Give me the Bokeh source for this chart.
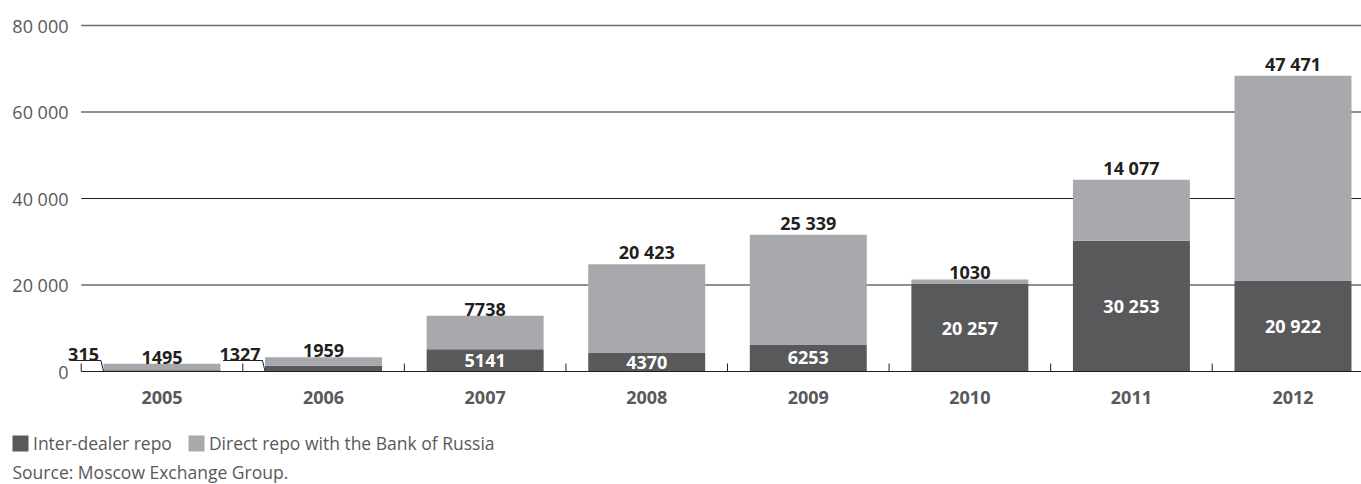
from bokeh.plotting import figure
from bokeh.models import (Range1d, FixedTicker, LinearAxis, Legend, LegendItem,
                          Label, ColumnDataSource)
from bokeh.embed import file_html
from bokeh.resources import INLINE

# ---------------- data ----------------
years = ["2005", "2006", "2007", "2008", "2009", "2010", "2011", "2012"]
inter_dealer = [315, 1327, 5141, 4370, 6253, 20257, 30253, 20922]
direct_cbr = [1495, 1959, 7738, 20423, 25339, 1030, 14077, 47471]
y_ticks = [0, 20000, 40000, 60000, 80000]
series_names = ["Inter-dealer repo", "Direct repo with the Bank of Russia"]
source_text = "Source: Moscow Exchange Group."

# ---------------- style ----------------
DARK = "#58595b"
LIGHT = "#a7a9ac"
INK = "#231f20"
GREY_TEXT = "#58595b"
FONT = "Open Sans"
FS = "18px"
FS_SMALL = "17.5px"

W, H = 1361, 484
PX = 80000 / 346.0            # data units per pixel (vertical)
ZERO_PX = 371                 # canvas y of the zero line
CAT_PX = 161.57               # pixels per category
FIRST_CENTER_PX = 161.5       # pixel x of first category centre
YLABEL_RIGHT_PX = 70
BAR_W = 0.724


def px_to_x(px):
    return (px - FIRST_CENTER_PX) / CAT_PX


def fmt(v):
    return f"{v:,}".replace(",", " ") if v >= 10000 else str(v)


x = list(range(len(years)))
totals = [a + b for a, b in zip(inter_dealer, direct_cbr)]

x_start = px_to_x(0)
x_end = px_to_x(W)

p = figure(width=W, height=H,
           x_range=Range1d(x_start, x_end),
           y_range=Range1d(-(H - ZERO_PX) * PX, ZERO_PX * PX),
           output_backend="svg", toolbar_location=None,
           x_axis_type=None, y_axis_type=None,
           min_border=0, min_border_left=0, min_border_right=0,
           min_border_top=0, min_border_bottom=0)
p.outline_line_color = None
p.background_fill_color = "white"
p.border_fill_color = "white"

# gridlines (start at the first category boundary)
grid_vals = y_ticks[1:-1]
p.segment(x0=[-0.5] * len(grid_vals), y0=grid_vals,
          x1=[x_end] * len(grid_vals), y1=grid_vals,
          line_color=INK, line_width=1)
p.segment(x0=[-0.5], y0=[y_ticks[-1]], x1=[x_end], y1=[y_ticks[-1]],
          line_color="#6d6e70", line_width=1.3)

# stacked bars
src = ColumnDataSource(dict(x=x, inter=inter_dealer, direct=direct_cbr))
rs = p.vbar_stack(["inter", "direct"], x="x", width=BAR_W, source=src,
                  color=[DARK, LIGHT], line_color=None)

# axis line and boundary ticks
p.segment(x0=[-0.5], y0=[0], x1=[x_end], y1=[0], line_color=INK, line_width=1.2)
bounds = [i - 0.5 for i in range(len(years) + 1)]
p.segment(x0=bounds, y0=[0] * len(bounds), x1=bounds, y1=[8 * PX] * len(bounds),
          line_color=INK, line_width=1)

# labels on top (direct repo)
p.text(x=x, y=totals, text=[fmt(v) for v in direct_cbr],
       text_align="center", text_baseline="bottom", y_offset=0,
       text_font={"value": FONT}, text_font_size=FS, text_font_style="bold",
       text_color=INK)

# inter-dealer labels
THRESH = 4000
in_idx = [i for i, v in enumerate(inter_dealer) if v >= THRESH]
out_idx = [i for i, v in enumerate(inter_dealer) if v < THRESH]
p.text(x=[x[i] for i in in_idx], y=[inter_dealer[i] / 2 for i in in_idx],
       text=[fmt(inter_dealer[i]) for i in in_idx],
       text_align="center", text_baseline="middle",
       text_font={"value": FONT}, text_font_size=FS, text_font_style="bold",
       text_color="white")

LY = 11 * PX
lab_x = [x[i] - 0.39 for i in out_idx]
p.text(x=lab_x, y=[LY] * len(out_idx), text=[fmt(inter_dealer[i]) for i in out_idx],
       text_align="right", text_baseline="bottom", y_offset=0,
       text_font={"value": FONT}, text_font_size=FS, text_font_style="bold",
       text_color=INK)
xs, ys = [], []
for i in out_idx:
    s = x[i] - 0.39 - len(fmt(inter_dealer[i])) * 0.058
    xs.append([s, x[i] - 0.378, x[i] - BAR_W / 2])
    ys.append([LY, LY, 0])
p.multi_line(xs=xs, ys=ys, line_color=INK, line_width=1)

# y axis, drawn inside the canvas at a fixed location
yaxis = LinearAxis(ticker=FixedTicker(ticks=y_ticks), fixed_location=px_to_x(YLABEL_RIGHT_PX),
                   major_label_overrides={t: fmt(t) for t in y_ticks},
                   axis_line_color=None, major_tick_line_color=None,
                   minor_tick_line_color=None, major_tick_out=0, major_tick_in=0,
                   major_label_standoff=2,
                   major_label_text_font=FONT, major_label_text_font_size=FS,
                   major_label_text_color=GREY_TEXT)
p.add_layout(yaxis, "left")

# x axis (categories) at the zero line
xaxis = LinearAxis(ticker=FixedTicker(ticks=x), fixed_location=0,
                   major_label_overrides={i: yv for i, yv in zip(x, years)},
                   axis_line_color=None, major_tick_line_color=None,
                   minor_tick_line_color=None, major_tick_out=0, major_tick_in=0,
                   major_label_standoff=19,
                   major_label_text_font=FONT, major_label_text_font_size=FS,
                   major_label_text_font_style="bold",
                   major_label_text_color=GREY_TEXT)
p.add_layout(xaxis, "below")

# legend below the chart
legend = Legend(items=[LegendItem(label=series_names[k], renderers=[rs[k]]) for k in range(2)],
                orientation="horizontal", location=(10, 29),
                glyph_width=20, glyph_height=20, label_standoff=3, spacing=14,
                padding=0, margin=0, border_line_color=None,
                background_fill_alpha=0,
                label_text_font=FONT, label_text_font_size=FS_SMALL,
                label_text_color=GREY_TEXT)
p.add_layout(legend)

src_label = Label(x=px_to_x(12), y=-(471 - ZERO_PX) * PX, text=source_text,
                  text_font=FONT, text_font_size=FS_SMALL, text_color=GREY_TEXT,
                  text_align="left", text_baseline="middle")
p.add_layout(src_label)

open("out.html", "w").write(file_html(p, INLINE))
